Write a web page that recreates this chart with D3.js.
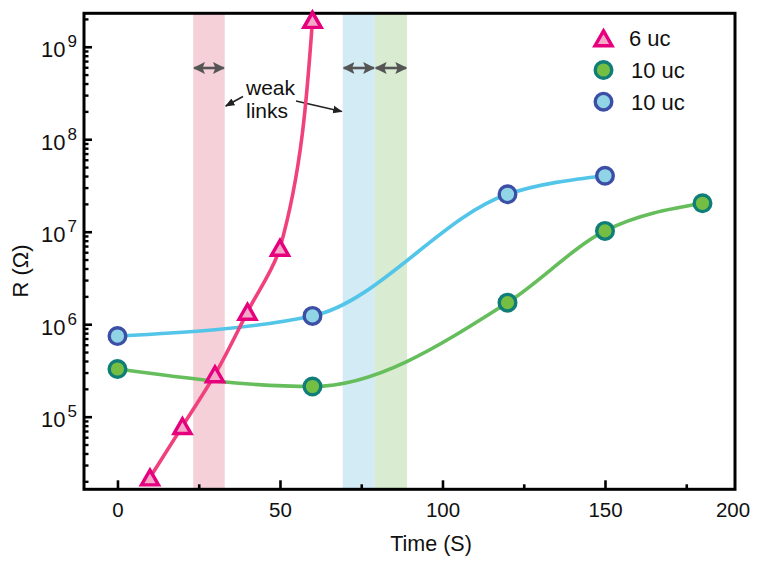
<!DOCTYPE html>
<html>
<head>
<meta charset="utf-8">
<script src="https://cdn.jsdelivr.net/npm/d3@7"></script>
<style>
body { margin: 0; background: #fff; }
text { font-family: Arial, "Liberation Sans", sans-serif; fill: #111; }
</style>
</head>
<body>
<svg id="chart" width="758" height="565"></svg>
<script>
// data
var time6 = [10, 20, 30, 40, 50, 60];
var r6 = [2.2e4, 7.9e4, 2.87e5, 1.36e6, 6.7e6, 1.95e9];
var timeGreen = [0, 60, 120, 150, 180];
var rGreen = [3.28e5, 2.12e5, 1.71e6, 1.02e7, 2.03e7];
var timeBlue = [0, 60, 120, 150];
var rBlue = [7.45e5, 1.23e6, 2.54e7, 4.03e7];
var bandStart = [23.3, 69.3, 79.2];
var bandEnd = [33, 79.2, 89.1];
var xTicks = [0, 50, 100, 150];
var xMinor = [25, 75, 125, 175];
var yDecades = [5, 6, 7, 8, 9];
var legendLabels = ["6 uc", "10 uc", "10 uc"];

var svg = d3.select("#chart");

var x = d3.scaleLinear().domain([-10.3, 190]).range([84, 735]);
var y = d3.scaleLog().domain([1.64e4, 2.3e9]).range([489.3, 13.3]);

var bandColors = ["#f5d0d9", "#d3ebf5", "#d9ecd1"];

// shaded weak-link bands
svg.selectAll("rect.band")
	.data(bandStart)
	.enter().append("rect")
	.attr("class", "band")
	.attr("x", function(d) {return x(d)})
	.attr("y", y.range()[1])
	.attr("width", function(d, i) {return x(bandEnd[i]) - x(d)})
	.attr("height", y.range()[0] - y.range()[1])
	.style("fill", function(d, i) {return bandColors[i]});

// arrow heads
var defs = svg.append("defs");
defs.append("marker")
	.attr("id", "gh")
	.attr("viewBox", "0 0 10 10")
	.attr("refX", 9).attr("refY", 5)
	.attr("markerWidth", 4.6).attr("markerHeight", 4.6)
	.attr("markerUnits", "strokeWidth")
	.attr("orient", "auto-start-reverse")
	.append("path").attr("d", "M0,0L10,5L0,10L2,5Z").style("fill", "#555");
defs.append("marker")
	.attr("id", "bh")
	.attr("viewBox", "0 0 10 10")
	.attr("refX", 9).attr("refY", 5)
	.attr("markerWidth", 6).attr("markerHeight", 6)
	.attr("markerUnits", "strokeWidth")
	.attr("orient", "auto")
	.append("path").attr("d", "M0,1L10,5L0,9Z").style("fill", "#222");

svg.selectAll("line.width")
	.data(bandStart)
	.enter().append("line")
	.attr("class", "width")
	.attr("x1", function(d) {return x(d) + 1})
	.attr("x2", function(d, i) {return x(bandEnd[i]) - 1})
	.attr("y1", 68).attr("y2", 68)
	.style("stroke", "#555")
	.style("stroke-width", 2.6)
	.attr("marker-start", "url(#gh)")
	.attr("marker-end", "url(#gh)");

// weak links annotation
svg.append("text").attr("x", 246).attr("y", 95).style("font-size", "21px").text("weak");
svg.append("text").attr("x", 246).attr("y", 118).style("font-size", "21px").text("links");
svg.append("line")
	.attr("x1", 243).attr("y1", 96.5).attr("x2", x(bandEnd[0]) + 1).attr("y2", 106)
	.style("stroke", "#222").style("stroke-width", 1.6).attr("marker-end", "url(#bh)");
svg.append("line")
	.attr("x1", 296).attr("y1", 101).attr("x2", x(bandStart[1]) - 1).attr("y2", 111.5)
	.style("stroke", "#222").style("stroke-width", 1.6).attr("marker-end", "url(#bh)");

// curves
var series = [
	{t: timeGreen, r: rGreen, line: "#66bd5b", fill: "#74bf43", stroke: "#0f7d78", shape: "circle", curve: d3.curveMonotoneX},
	{t: timeBlue, r: rBlue, line: "#52c5e8", fill: "#90d4e5", stroke: "#3c4fa6", shape: "circle", curve: d3.curveMonotoneX},
	{t: time6, r: r6, line: "#f0407e", fill: "#f5a9c9", stroke: "#e6007e", shape: "triangle", curve: d3.curveMonotoneY}
];

series.forEach(function(s) {
	var pts = s.t.map(function(t, i) {return [t, s.r[i]]});
	var line = d3.line()
		.x(function(d) {return x(d[0])})
		.y(function(d) {return y(d[1])})
		.curve(s.curve);
	svg.append("path")
		.datum(pts)
		.attr("d", line)
		.style("fill", "none")
		.style("stroke", s.line)
		.style("stroke-width", 3.6);
});

var triPath = "M0,-7.4L8.5,7.4L-8.5,7.4Z";

function marker(g, shape, fill, stroke) {
	if (shape === "triangle") {
		g.append("path").attr("d", triPath)
			.style("fill", fill).style("stroke", stroke)
			.style("stroke-width", 3.4).style("stroke-linejoin", "miter");
	} else {
		g.append("circle").attr("r", 8.3)
			.style("fill", fill).style("stroke", stroke).style("stroke-width", 3.4);
	}
}

series.forEach(function(s) {
	s.t.forEach(function(t, i) {
		var g = svg.append("g").attr("transform", "translate(" + x(t) + "," + y(s.r[i]) + ")");
		marker(g, s.shape, s.fill, s.stroke);
	});
});

// axes
var xAxis = d3.axisBottom(x).tickValues(xTicks).tickSize(-9).tickFormat(d3.format("d"));
var gx = svg.append("g").attr("transform", "translate(0," + y.range()[0] + ")").call(xAxis);
gx.select(".domain").remove();
gx.selectAll("line").style("stroke", "#000").style("stroke-width", 2.6);
gx.selectAll("text").style("font-size", "20.5px").attr("dy", "0.71em").attr("y", 13);

var gxm = svg.append("g").attr("transform", "translate(0," + y.range()[0] + ")")
	.call(d3.axisBottom(x).tickValues(xMinor).tickSize(-5).tickFormat(""));
gxm.select(".domain").remove();
gxm.selectAll("line").style("stroke", "#000").style("stroke-width", 2.6);

// last label of the original sits on the right frame
svg.append("text")
	.attr("x", x.range()[1] - 2).attr("y", 517)
	.attr("text-anchor", "middle")
	.style("font-size", "20.5px")
	.text("200");

var yMajor = yDecades.map(function(e) {return Math.pow(10, e)});
var yMinor = [];
for (var e = 4; e <= 9; e++) {
	for (var m = 2; m <= 9; m++) {
		var v = m * Math.pow(10, e);
		if (v >= y.domain()[0] && v <= y.domain()[1]) yMinor.push(v);
	}
}

var gy = svg.append("g").attr("transform", "translate(" + x.range()[0] + ",0)")
	.call(d3.axisLeft(y).tickValues(yMajor).tickSize(-8).tickFormat(""));
gy.select(".domain").remove();
gy.selectAll("line").style("stroke", "#000").style("stroke-width", 2.6);

var gym = svg.append("g").attr("transform", "translate(" + x.range()[0] + ",0)")
	.call(d3.axisLeft(y).tickValues(yMinor).tickSize(-4.5).tickFormat(""));
gym.select(".domain").remove();
gym.selectAll("line").style("stroke", "#000").style("stroke-width", 2.4);

var ylab = svg.selectAll("text.ylab")
	.data(yDecades)
	.enter().append("text")
	.attr("class", "ylab")
	.attr("x", 77)
	.attr("y", function(d) {return y(Math.pow(10, d)) + 10.6})
	.attr("text-anchor", "end");
ylab.append("tspan").style("font-size", "22px").text("10");
ylab.append("tspan").style("font-size", "17px").attr("dx", 2).attr("dy", -10).text(function(d) {return d});

// frame
svg.append("rect")
	.attr("x", x.range()[0]).attr("y", y.range()[1])
	.attr("width", x.range()[1] - x.range()[0])
	.attr("height", y.range()[0] - y.range()[1])
	.style("fill", "none").style("stroke", "#000").style("stroke-width", 3);

// top triangle sits over the frame
svg.append("g").attr("transform", "translate(" + x(time6[5]) + "," + y(r6[5]) + ")")
	.call(function(g) {marker(g, "triangle", series[2].fill, series[2].stroke)});

// axis titles
svg.append("text")
	.attr("x", 431).attr("y", 551)
	.attr("text-anchor", "middle")
	.style("font-size", "21.5px")
	.text("Time (S)");
svg.append("text")
	.attr("transform", "translate(28,271) rotate(-90)")
	.attr("text-anchor", "middle")
	.style("font-size", "22px")
	.text("R (Ω)");

// legend
var legendY = [38.3, 70, 101.7];
var legendSeries = [series[2], series[0], series[1]];
legendLabels.forEach(function(lab, i) {
	var s = legendSeries[i];
	var g = svg.append("g").attr("transform", "translate(603.5," + legendY[i] + ")");
	marker(g, s.shape, s.fill, s.stroke);
	svg.append("text")
		.attr("x", i === 0 ? 629 : 631)
		.attr("y", legendY[i] + 8)
		.style("font-size", "22px")
		.text(lab);
});
</script>
</body>
</html>
